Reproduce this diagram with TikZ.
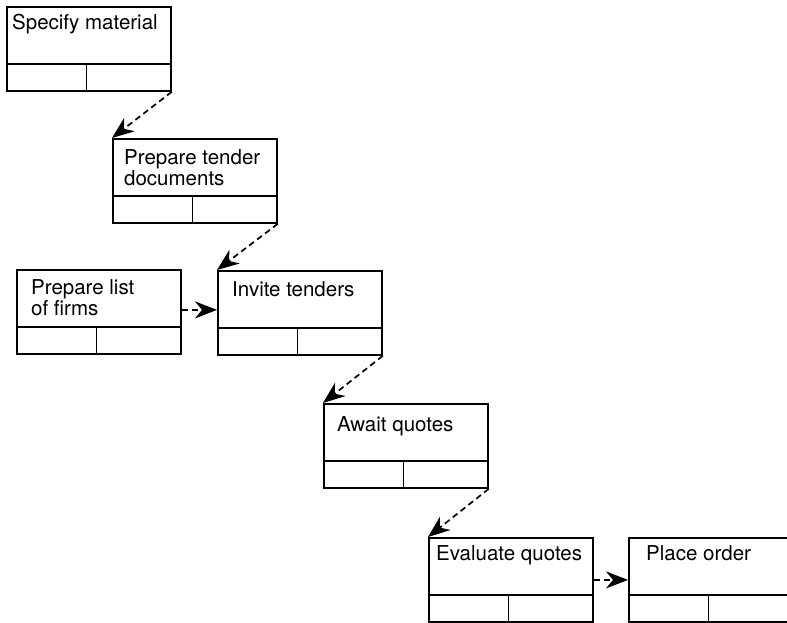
\documentclass[tikz,border=0pt]{standalone}
\usepackage{fontspec}
\setmainfont{TeX Gyre Heros}
\usetikzlibrary{arrows.meta}
\begin{document}
\begin{tikzpicture}[x=1pt,y=-1pt,
  actbox/.style={draw, line width=1.8pt, rectangle, minimum width=164pt, minimum height=84pt, anchor=north west, inner sep=0pt},
  acttext/.style={anchor=base west, inner sep=0pt, align=left, font=\fontsize{20.5}{18}\selectfont},
  divline/.style={line width=1.8pt},
  flow/.style={line width=1.7pt, dash pattern=on 6pt off 4pt, -{Stealth[length=22pt,width=17pt,inset=7pt]}}]
\useasboundingbox (0,0) rectangle (787,622);
% boxes
\node[actbox] (b1) at (6,6) {};
\node[actbox] (b2) at (112,138) {};
\node[actbox] (b3) at (16,269) {};
\node[actbox] (b4) at (217,270) {};
\node[actbox] (b5) at (323,403) {};
\node[actbox] (b6) at (428,537) {};
\node[actbox] (b7) at (628,537) {};
% dividers
\foreach \b in {b1,b2,b3,b4,b5,b6,b7}{
  \draw[divline] ([yshift=-58pt]\b.north west) -- ([yshift=-58pt]\b.north east);
  \draw[divline] ([xshift=80.5pt,yshift=-58pt]\b.north west) -- ([xshift=80.5pt]\b.south west);
}
% texts (base anchor of a two-line node is the last line)
\node[acttext] (t1) at ([xshift=6pt,yshift=-23pt]b1.north west) {Specify material};
\node[acttext] (t2) at ([xshift=12pt,yshift=-47pt]b2.north west) {Prepare tender\\documents};
\node[acttext] (t3) at ([xshift=15pt,yshift=-46pt]b3.north west) {Prepare list\\of firms};
\node[acttext] (t4) at ([xshift=15pt,yshift=-26pt]b4.north west) {Invite tenders};
\node[acttext] (t5) at ([xshift=14pt,yshift=-28pt]b5.north west) {Await quotes};
\node[acttext] (t6) at ([xshift=8pt,yshift=-23pt]b6.north west) {Evaluate quotes};
\node[acttext] (t7) at ([xshift=18pt,yshift=-23pt]b7.north west) {Place order};
% connectors
\draw[flow] (b1.south east) -- (b2.north west);
\draw[flow] (b2.south east) -- (b4.north west);
\draw[flow] (b4.south east) -- (b5.north west);
\draw[flow] (b5.south east) -- (b6.north west);
\draw[flow] ([yshift=2pt]b3.east) -- ([yshift=2pt]b3.east -| b4.west);
\draw[flow] (b6.east) -- (b7.west);
\end{tikzpicture}
\end{document}
